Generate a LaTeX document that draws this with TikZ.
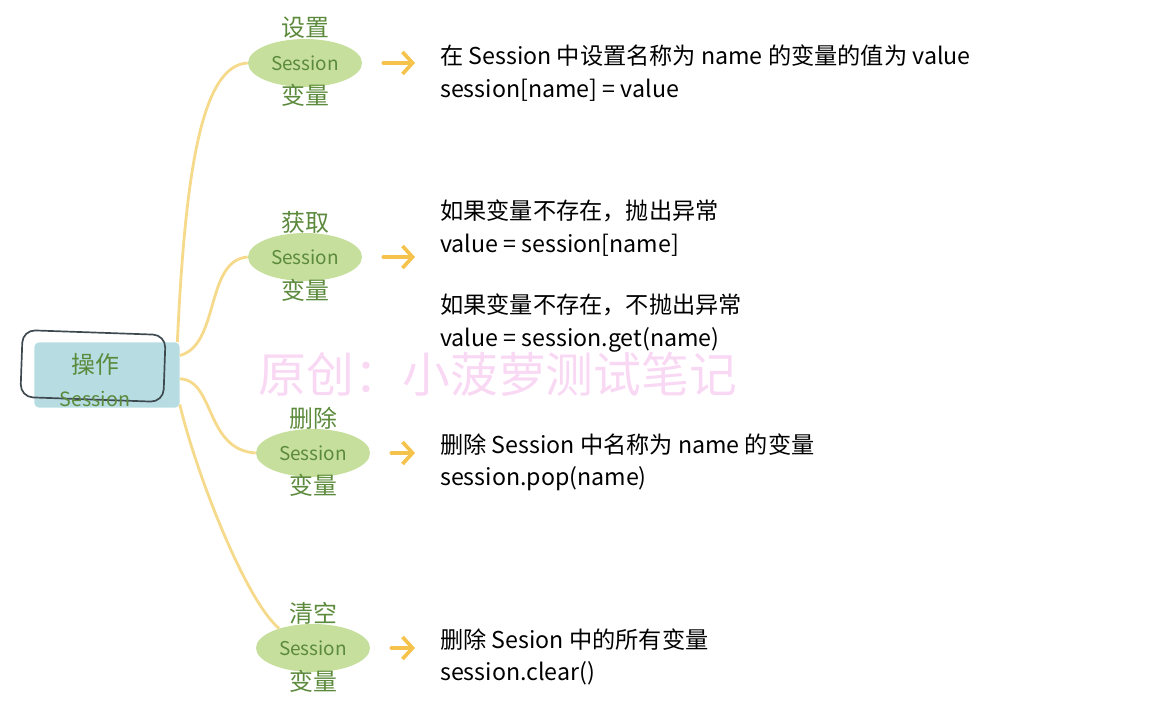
\documentclass[tikz,border=0pt]{standalone}
\usepackage{fontspec}
\setmainfont{Noto Sans CJK SC}
\usetikzlibrary{arrows.meta,shapes.geometric}

\definecolor{rootblue}{HTML}{B7DDE3}
\definecolor{rootgray}{HTML}{3E4A50}
\definecolor{leafgreen}{HTML}{C6DF9C}
\definecolor{textgreen}{HTML}{5C8A3C}
\definecolor{branchyellow}{HTML}{F6DA8C}
\definecolor{arrowyellow}{HTML}{F5C34C}
\definecolor{markpink}{HTML}{F9D8F4}

\begin{document}
\begin{tikzpicture}[
  x=0.025cm, y=-0.025cm,
  rootbox/.style={fill=rootblue, rounded corners=3pt, minimum width=3.625cm, minimum height=1.625cm},
  rootline/.style={draw=rootgray, line width=1.2pt, rounded corners=9pt, minimum width=3.575cm, minimum height=1.675cm, rotate=-2},
  roottext/.style={text=textgreen, align=center, inner sep=0pt, font=\fontsize{17}{24}\selectfont},
  leaf/.style={ellipse, fill=leafgreen, minimum width=2.85cm, minimum height=1.2cm, inner sep=0pt, text=textgreen, font=\fontsize{13.5}{16}\selectfont},
  leaflbl/.style={text=textgreen, inner sep=0pt, font=\fontsize{17}{20}\selectfont},
  desc/.style={anchor=west, align=left, inner sep=0pt, font=\fontsize{16.5}{23}\selectfont},
  branch/.style={draw=branchyellow, line width=2pt},
  arrow/.style={draw=arrowyellow, line width=2.6pt, line cap=round, -{Straight Barb[length=2.5mm, width=5.5mm]}, shorten <=0.525cm, shorten >=0.625cm}
]
\useasboundingbox (0,0) rectangle (1164,722);

% watermark
\node[text=markpink, inner sep=0pt, font=\fontsize{34}{40}\selectfont] (mark) at (498,374) {原创：小菠萝测试笔记};

% root
\node[rootbox] (op) at (107,375) {};
\node[rootline] (opline) at (93,366) {};
\node[roottext] (optext) at (95,380) {操作\\{\fontsize{14}{16}\selectfont Session}};

% leaves
\node[leaf] (set) at (305,63) {Session};
\node[leaflbl] (settop) at (305,28) {设置};
\node[leaflbl] (setbot) at (305,95) {变量};

\node[leaf] (get) at (305,257) {Session};
\node[leaflbl] (gettop) at (305,222) {获取};
\node[leaflbl] (getbot) at (305,290) {变量};

\node[leaf] (del) at (313,453) {Session};
\node[leaflbl] (deltop) at (313,418) {删除};
\node[leaflbl] (delbot) at (313,485) {变量};

\node[leaf] (clr) at (313,648) {Session};
\node[leaflbl] (clrtop) at (313,613) {清空};
\node[leaflbl] (clrbot) at (313,681) {变量};

% descriptions
\node[desc] (settxt) at (440,73) {在 Session 中设置名称为 name 的变量的值为 value\\session[name] = value};
\node[desc] (gettxt) at (440,228) {如果变量不存在，抛出异常\\value = session[name]};
\node[desc] (gettxtb) at (440,323) {如果变量不存在，不抛出异常\\value = session.get(name)};
\node[desc] (deltxt) at (440,462) {删除 Session 中名称为 name 的变量\\session.pop(name)};
\node[desc] (clrtxt) at (440,657) {删除 Sesion 中的所有变量\\session.clear()};

% branches
\draw[branch] (op.25) .. controls (185,180) and (200,65) .. (set.west);
\draw[branch] (op.15) .. controls (220,345) and (205,260) .. (get.west);
\draw[branch] (op.-3) .. controls (215,380) and (205,450) .. (del.west);
\draw[branch] (op.-22) .. controls (195,470) and (245,600) .. (clr.150);

% arrows
\draw[arrow] (set.east) -- (set.east -| settxt.west);
\draw[arrow] (get.east) -- (get.east -| gettxt.west);
\draw[arrow] (del.east) -- (del.east -| deltxt.west);
\draw[arrow] (clr.east) -- (clr.east -| clrtxt.west);
\end{tikzpicture}
\end{document}
